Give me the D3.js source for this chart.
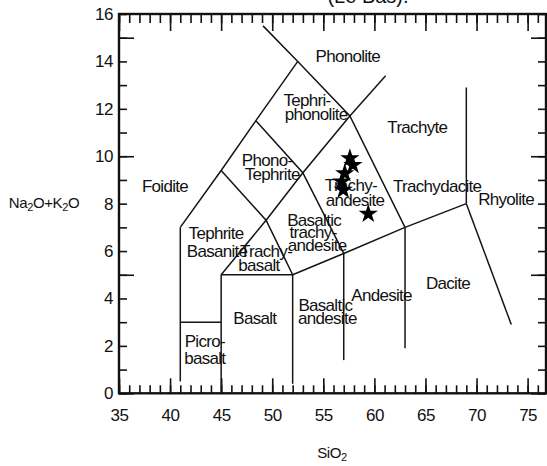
<!DOCTYPE html>
<html>
<head>
<meta charset="utf-8">
<script src="https://cdn.jsdelivr.net/npm/d3@7"></script>
<style>
  html, body { margin: 0; padding: 0; background: #fff; }
  svg { display: block; }
  text { font-family: "Liberation Sans", Arial, sans-serif; fill: #111; }
</style>
</head>
<body>
<svg id="chart" width="547" height="466"></svg>
<script>
// Total alkali vs silica (TAS) classification, wt%
const xMajorTicks = [35, 40, 45, 50, 55, 60, 65, 70, 75];
const yLabelTicks = [0, 2, 4, 6, 8, 10, 12, 14, 16];

// Field boundaries as polylines of [SiO2, Na2O+K2O]
const boundaries = [
  [[41, 0.5], [41, 7]],
  [[41, 3], [45, 3]],
  [[45, 0], [45, 5]],
  [[45, 5], [52, 5]],
  [[52, 0.4], [52, 5]],
  [[52, 5], [57, 5.9], [63, 7], [69, 8]],
  [[57, 1.4], [57, 5.9]],
  [[63, 1.9], [63, 7]],
  [[69, 8], [69, 12.9]],
  [[69, 8], [73.4, 2.9]],
  [[41, 7], [45, 9.4], [48.4, 11.5], [52.5, 14]],
  [[49.1, 15.5], [52.5, 14], [57.6, 11.7], [63, 7]],
  [[57.6, 11.7], [61.1, 13.4]],
  [[48.4, 11.5], [53, 9.3], [57.6, 11.7]],
  [[45, 9.4], [49.4, 7.3], [53, 9.3]],
  [[45, 5], [49.4, 7.3], [52, 5]],
  [[53, 9.3], [57, 5.9]]
];

// Field names, one entry per text line, anchored in data units
const fieldNames = ["Phonolite", "Tephri-", "phonolite", "Trachyte", "Phono-", "Tephrite",
  "Foidite", "Trachy-", "andesite", "Trachydacite", "Rhyolite", "Basaltic", "trachy-",
  "andesite", "Tephrite", "Basanite", "Trachy-", "basalt", "Basalt", "Basaltic",
  "andesite", "Andesite", "Dacite", "Picro-", "basalt"];
const fieldSiO2 = [57.4, 53.4, 54.3, 64.2, 49.5, 50.0, 39.5, 57.7, 58.1, 66.15, 72.9, 54.1, 54.0,
  54.4, 44.5, 44.6, 49.4, 48.7, 48.3, 55.2, 55.4, 60.7, 67.2, 43.4, 43.4];
const fieldAlkali = [13.98, 12.12, 11.53, 10.98, 9.59, 8.99, 8.5, 8.54, 7.9, 8.5, 7.95, 7.06, 6.55,
  6.0, 6.51, 5.75, 5.75, 5.16, 2.93, 3.47, 2.93, 3.9, 4.4, 1.96, 1.24];

// Samples
const sampleSiO2 = [57.6, 57.9, 57.1, 56.8, 56.95, 59.4];
const sampleAlkali = [9.91, 9.63, 9.28, 8.93, 8.58, 7.57];

const svg = d3.select("#chart");
const x = d3.scaleLinear().domain([35, 76.8]).range([119, 546]);
const y = d3.scaleLinear().domain([0, 16]).range([393.3, 14]);

const major = 15, minor = 8;
const xMinor = d3.range(35, 77, 1);
const yMinor = d3.range(0, 17, 1);
const yMajor = [0, 5, 10, 15];

// Inward ticks on all four sides
function ticks(axis, g) {
  g.call(axis);
  g.select(".domain").remove();
  g.selectAll("line").attr("stroke", "#111").attr("stroke-width", 1.6);
}
const plotL = x.range()[0], plotR = x.range()[1], plotB = y.range()[0], plotT = y.range()[1];

svg.append("g").attr("transform", `translate(0,${plotB})`)
  .call(g => ticks(d3.axisBottom(x).tickValues(xMinor).tickSize(-minor).tickFormat(""), g));
svg.append("g").attr("transform", `translate(0,${plotB})`)
  .call(g => ticks(d3.axisBottom(x).tickValues(xMajorTicks).tickSize(-major), g))
  .selectAll("text").attr("font-size", 17).attr("letter-spacing", -0.5)
  .attr("y", 16).attr("dy", "0.71em");
svg.append("g").attr("transform", `translate(0,${plotT})`)
  .call(g => ticks(d3.axisTop(x).tickValues(xMinor).tickSize(-minor - 1).tickFormat(""), g));
svg.append("g").attr("transform", `translate(0,${plotT})`)
  .call(g => ticks(d3.axisTop(x).tickValues(xMajorTicks).tickSize(-major - 2).tickFormat(""), g));

svg.append("g").attr("transform", `translate(${plotL},0)`)
  .call(g => ticks(d3.axisLeft(y).tickValues(yMinor).tickSize(-minor).tickFormat(""), g));
svg.append("g").attr("transform", `translate(${plotL},0)`)
  .call(g => ticks(d3.axisLeft(y).tickValues(yMajor).tickSize(-major).tickFormat(""), g));
svg.append("g").attr("transform", `translate(${plotL},0)`)
  .call(g => {
    g.call(d3.axisLeft(y).tickValues(yLabelTicks).tickSize(0).tickPadding(6));
    g.select(".domain").remove();
    g.selectAll("text").attr("font-size", 17).attr("letter-spacing", -0.5);
  });
svg.append("g").attr("transform", `translate(${plotR},0)`)
  .call(g => ticks(d3.axisRight(y).tickValues(yMinor).tickSize(-minor).tickFormat(""), g));
svg.append("g").attr("transform", `translate(${plotR},0)`)
  .call(g => ticks(d3.axisRight(y).tickValues(yMajor).tickSize(-major).tickFormat(""), g));

// Frame
svg.append("rect")
  .attr("x", plotL).attr("y", plotT)
  .attr("width", plotR - plotL).attr("height", plotB - plotT)
  .attr("fill", "none").attr("stroke", "#111").attr("stroke-width", 2.4);

// Field boundaries
const line = d3.line().x(d => x(d[0])).y(d => y(d[1]));
svg.append("g").selectAll("path").data(boundaries).join("path")
  .attr("d", line).attr("fill", "none")
  .attr("stroke", "#151515").attr("stroke-width", 1.5);

// Field names
svg.append("g").selectAll("text").data(fieldNames).join("text")
  .attr("x", (d, i) => x(fieldSiO2[i]))
  .attr("y", (d, i) => y(fieldAlkali[i]))
  .attr("text-anchor", "middle")
  .attr("font-size", 17)
  .attr("letter-spacing", -0.7)
  .text(d => d);

// Samples
const star = d3.symbol().type(d3.symbolStar).size(115);
svg.append("g").selectAll("path").data(sampleSiO2).join("path")
  .attr("transform", (d, i) => `translate(${x(d)},${y(sampleAlkali[i])})`)
  .attr("d", star)
  .attr("fill", "#000");

// Axis titles
const yt = svg.append("text").attr("x", 44).attr("y", 208)
  .attr("text-anchor", "middle").attr("font-size", 15).attr("letter-spacing", -0.4);
yt.append("tspan").text("Na");
yt.append("tspan").text("2").attr("font-size", 11).attr("dy", 3);
yt.append("tspan").text("O+K").attr("dy", -3);
yt.append("tspan").text("2").attr("font-size", 11).attr("dy", 3);
yt.append("tspan").text("O").attr("dy", -3);

const xt = svg.append("text").attr("x", 332).attr("y", 458)
  .attr("text-anchor", "middle").attr("font-size", 15).attr("letter-spacing", -0.4);
xt.append("tspan").text("SiO");
xt.append("tspan").text("2").attr("font-size", 11).attr("dy", 3);

// Title, mostly above the page edge
svg.append("text").attr("x", 368).attr("y", 3)
  .attr("text-anchor", "middle").attr("font-size", 20)
  .text("(Le Bas).");
</script>
</body>
</html>
